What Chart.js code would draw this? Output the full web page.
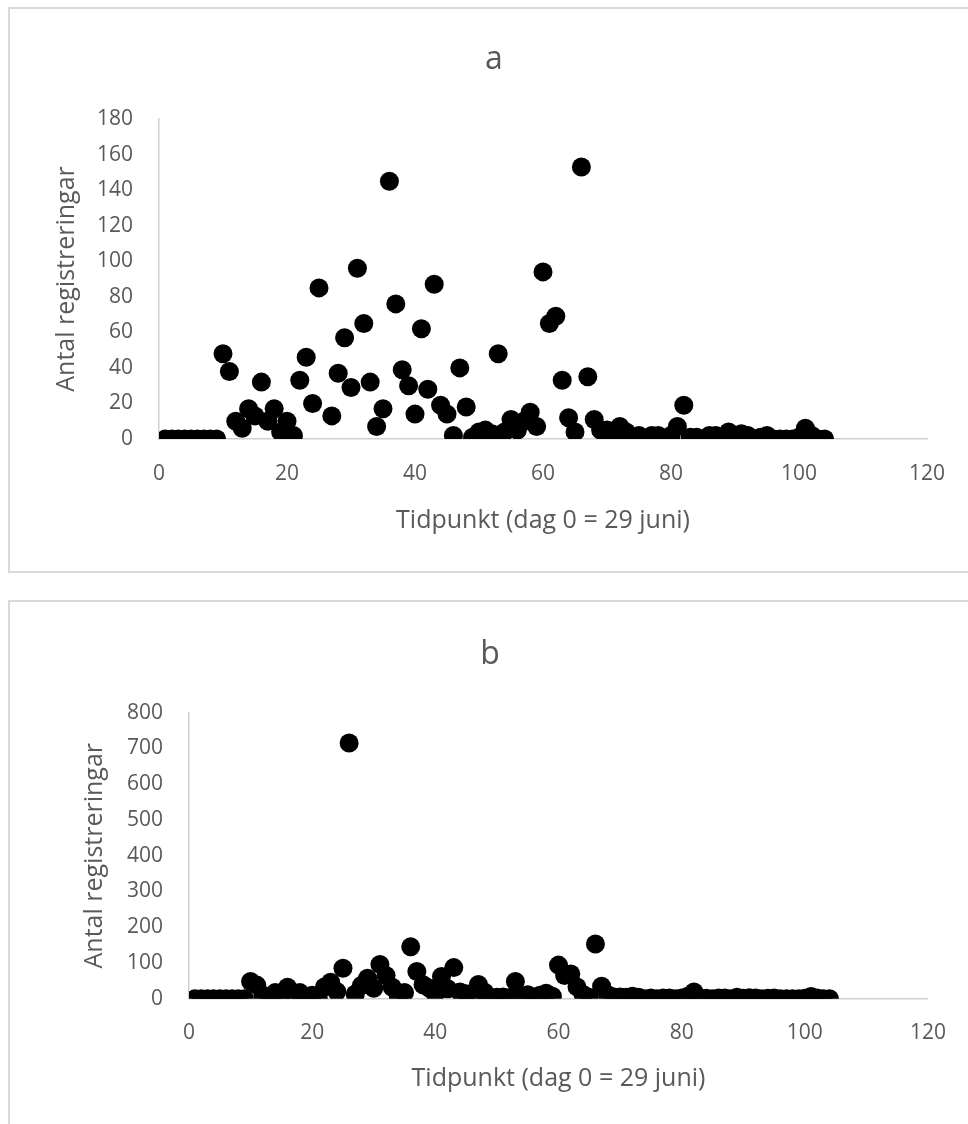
<!DOCTYPE html>
<html>
<head>
<meta charset="utf-8">
<script src="https://cdn.jsdelivr.net/npm/chart.js@4"></script>
<style>
  html, body { margin: 0; padding: 0; background: #fff; overflow: hidden; }
  body { width: 968px; height: 1124px; position: relative; }
  .frame { position: absolute; border: 2px solid #d9d9d9; box-sizing: border-box; }
  canvas { position: absolute; left: 0; }
</style>
</head>
<body>
<div class="frame" style="left:8px; top:7px; width:980px; height:566px;"></div>
<div class="frame" style="left:8px; top:600px; width:980px; height:560px;"></div>
<canvas id="chartA" width="968" height="580" style="top:0px"></canvas>
<canvas id="chartB" width="968" height="534" style="top:590px"></canvas>
<script>
// days since 29 June
const days = [];
for (let d = 1; d <= 104; d++) days.push(d);

// number of registrations per day
const counts = [
  0, 0, 0, 0, 0, 0, 0, 0, 0, 48,
  38, 10, 6, 17, 13, 32, 10, 17, 4, 10,
  2, 33, 46, 20, 85, 715, 13, 37, 57, 29,
  96, 65, 32, 7, 17, 145, 76, 39, 30, 14,
  62, 28, 87, 19, 14, 2, 40, 18, 1, 4,
  5, 3, 48, 4, 11, 5, 10, 15, 7, 94,
  65, 69, 33, 12, 4, 153, 35, 11, 5, 5,
  4, 7, 4, 0, 2, 0, 2, 2, 0, 2,
  7, 19, 1, 1, 0, 2, 2, 0, 4, 1,
  3, 2, 0, 1, 2, 0, 0, 0, 0, 1,
  6, 2, 0, 0
];

const xTicks = [0, 20, 40, 60, 80, 100, 120];
const yTicksA = [0, 20, 40, 60, 80, 100, 120, 140, 160, 180];
const yTicksB = [0, 100, 200, 300, 400, 500, 600, 700, 800];

const xTitle = "Tidpunkt (dag 0 = 29 juni)";
const yTitle = "Antal registreringar";

const textColor = "#595959";
const axisColor = "#d0d0d0";
const fontFamily = "'Open Sans', sans-serif";

const points = days.map((d, i) => ({ x: d, y: counts[i] }));

function makeChart(id, cfg) {
  const ctx = document.getElementById(id).getContext("2d");
  return new Chart(ctx, {
    type: "scatter",
    data: {
      datasets: [
        {
          data: points,
          pointRadius: 9.5,
          pointBackgroundColor: "#000",
          pointBorderWidth: 0,
          showLine: false,
        },
      ],
    },
    options: {
      responsive: false,
      animation: false,
      events: [],
      layout: {
        padding: { left: cfg.padLeft, right: cfg.padRight, top: 0, bottom: 0 },
      },
      plugins: {
        legend: { display: false },
        tooltip: { enabled: false },
        title: {
          display: true,
          text: cfg.title,
          color: textColor,
          font: { family: fontFamily, size: 32, weight: "normal" },
          padding: { top: cfg.titleTop, bottom: cfg.titleBottom },
        },
      },
      scales: {
        x: {
          type: "linear",
          min: 0,
          max: 120,
          afterBuildTicks: (s) => { s.ticks = xTicks.map((v) => ({ value: v })); },
          afterFit: (s) => { s.height = cfg.xHeight; },
          grid: { display: false, drawTicks: false },
          border: { display: true, color: axisColor, width: 1.5 },
          ticks: {
            color: textColor,
            padding: 22,
            font: { family: fontFamily, size: 21 },
          },
          title: {
            display: true,
            text: xTitle,
            color: textColor,
            font: { family: fontFamily, size: 25 },
            padding: { top: 0, bottom: cfg.xTitlePad },
          },
        },
        y: {
          type: "linear",
          min: 0,
          max: cfg.yMax,
          afterBuildTicks: (s) => { s.ticks = cfg.yTicks.map((v) => ({ value: v })); },
          afterFit: (s) => { s.width = cfg.yWidth; },
          grid: { display: false, drawTicks: false },
          border: { display: true, color: axisColor, width: 1.5 },
          ticks: {
            color: textColor,
            padding: 26,
            font: { family: fontFamily, size: 21 },
          },
          title: {
            display: true,
            text: yTitle,
            color: textColor,
            font: { family: fontFamily, size: 25 },
            padding: { top: cfg.yTitlePad, bottom: 0 },
          },
        },
      },
    },
  });
}

makeChart("chartA", {
  title: "a",
  padLeft: 61, padRight: 41,
  titleTop: 40.8, titleBottom: 39.8,
  yWidth: 98, yTitlePad: -9,
  xHeight: 141, xTitlePad: 44,
  yMax: 180, yTicks: yTicksA,
});

makeChart("chartB", {
  title: "b",
  padLeft: 50, padRight: 38,
  titleTop: 45.8, titleBottom: 38.5,
  yWidth: 139, yTitlePad: 30,
  xHeight: 125.3, xTitlePad: 30,
  yMax: 800, yTicks: yTicksB,
});
</script>
</body>
</html>
